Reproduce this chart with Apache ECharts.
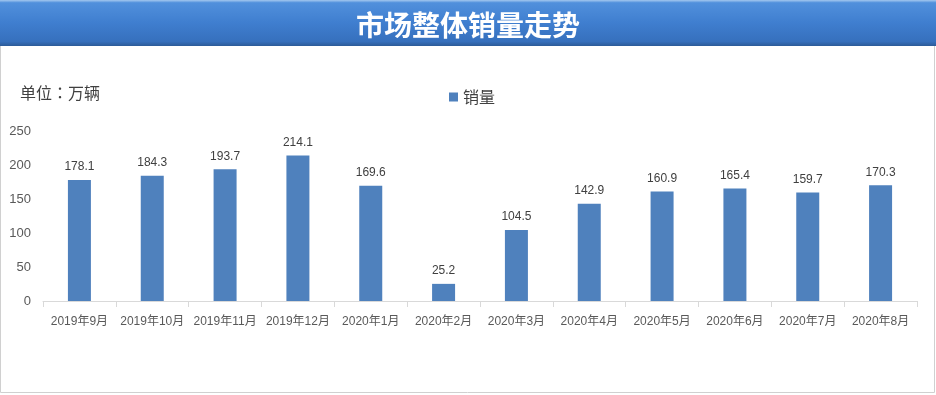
<!DOCTYPE html>
<html><head><meta charset="utf-8">
<script src="https://cdn.jsdelivr.net/npm/echarts@6/dist/echarts.min.js"></script>
<style>html,body{margin:0;padding:0;background:#fff}#c{width:936px;height:395px}</style>
</head><body><div id="c"></div>
<script>
const categories = ['2019年9月','2019年10月','2019年11月','2019年12月','2020年1月','2020年2月','2020年3月','2020年4月','2020年5月','2020年6月','2020年7月','2020年8月'];
const sales = [178.1, 184.3, 193.7, 214.1, 169.6, 25.2, 104.5, 142.9, 160.9, 165.4, 159.7, 170.3];
const yTicks = [0, 50, 100, 150, 200, 250];
const titleText = '市场整体销量走势';
const unitText = '单位：万辆';
const seriesName = '销量';

const chart = echarts.init(document.getElementById('c'), null, {renderer: 'canvas'});
const font = '"Liberation Sans","Noto Sans CJK SC",sans-serif';
chart.setOption({
  animation: false,
  textStyle: {fontFamily: font},
  graphic: [
    {type: 'rect', shape: {x: 0.5, y: 0.5, width: 934, height: 392}, style: {fill: 'none', stroke: '#d0d0d0', lineWidth: 1}, z: 0},
    {type: 'rect', shape: {x: 0, y: 0, width: 936, height: 46},
      style: {fill: new echarts.graphic.LinearGradient(0, 0, 0, 1, [
        {offset: 0, color: '#a4c8ef'},
        {offset: 0.06, color: '#5190dc'},
        {offset: 0.5, color: '#3f7ecf'},
        {offset: 0.9, color: '#3670bd'},
        {offset: 1, color: '#2c5b98'}
      ])}, z: 1},
    {type: 'text', x: 468, y: 25, style: {text: titleText, fill: '#ffffff', font: 'bold 28px "Noto Sans CJK SC",sans-serif', align: 'center', verticalAlign: 'middle'}, z: 2},
    {type: 'text', x: 20, y: 93, style: {text: unitText, fill: '#404040', font: '16px "Noto Sans CJK TC",sans-serif', verticalAlign: 'middle'}, z: 2}
  ],
  legend: {
    data: [seriesName], left: 444, top: 84, itemWidth: 9, itemHeight: 9, itemGap: 6,
    icon: 'rect', textStyle: {fontSize: 16, color: '#404040', fontFamily: '"Noto Sans CJK SC",sans-serif'}
  },
  grid: {left: 43, right: 19, top: 131, bottom: 94, containLabel: false},
  xAxis: {
    type: 'category', data: categories,
    axisLine: {lineStyle: {color: '#d9d9d9'}},
    axisTick: {show: true, length: 6, lineStyle: {color: '#d9d9d9'}},
    axisLabel: {color: '#595959', fontSize: 12, margin: 15, interval: 0}
  },
  yAxis: {
    type: 'value', min: yTicks[0], max: yTicks[yTicks.length - 1], interval: 50,
    axisLine: {show: false}, axisTick: {show: false}, splitLine: {show: false},
    axisLabel: {color: '#595959', fontSize: 13, margin: 12, align: 'right'}
  },
  series: [{
    name: seriesName, type: 'bar', data: sales, barWidth: 23,
    itemStyle: {color: '#4f81bd'},
    label: {show: true, position: 'top', distance: 7, color: '#404040', fontSize: 12}
  }]
});
</script></body></html>
